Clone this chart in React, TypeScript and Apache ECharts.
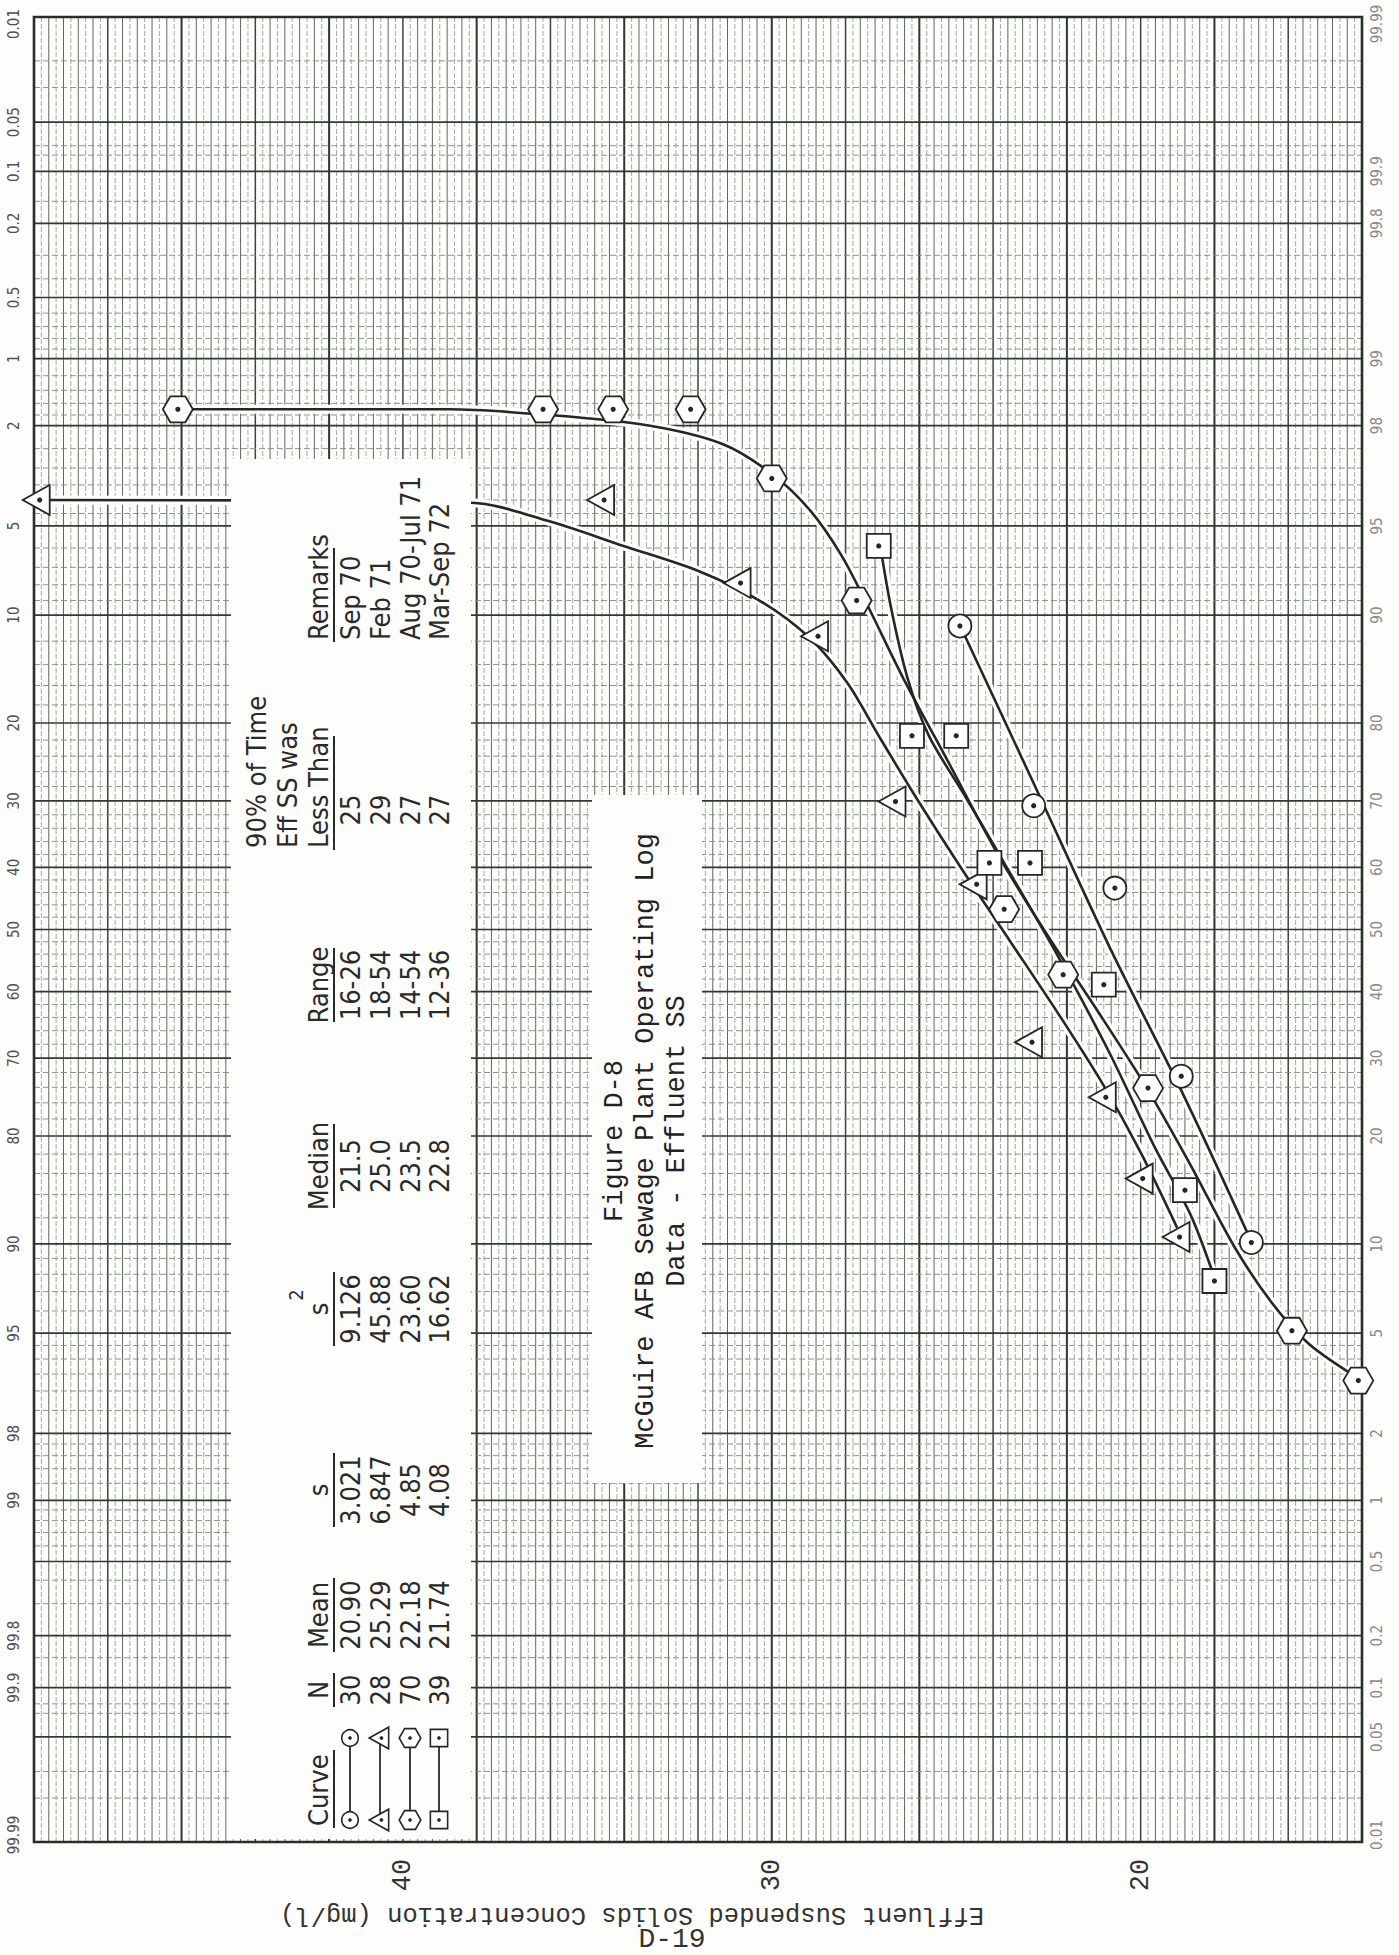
import React, { useEffect, useRef } from "react";
import * as echarts from "echarts";

const PAGE_W = 1399;
const PAGE_H = 1955;

// ---------- axes ----------
const concMin = 14;
const concMax = 50;
const concRule = 0.2; // finest ruling of the paper (mg/l)
const concLabels = [40, 30, 20];

const probLabelsLeft = ["0.01", "0.05", "0.1", "0.2", "0.5", "1", "2", "5", "10", "20", "30", "40", "50", "60", "70", "80", "90", "95", "98", "99", "99.8", "99.9", "99.99"];
const probLabelsRight = ["99.99", "99.9", "99.8", "99", "98", "95", "90", "80", "70", "60", "50", "40", "30", "20", "10", "5", "2", "1", "0.5", "0.2", "0.1", "0.05", "0.01"];
const probMajor = [0.01, 0.05, 0.1, 0.2, 0.5, 1, 2, 5, 10, 20, 30, 40, 50, 60, 70, 80, 90, 95, 98, 99, 99.5, 99.8, 99.9, 99.95, 99.99];
const probMinor = [0.02, 0.03, 0.07, 0.08, 0.15, 0.3, 0.4, 0.6, 0.7, 0.8, 0.9, 1.2, 1.4, 1.6, 1.8, 2.5, 3, 3.5, 4, 4.5, 6, 7, 8, 9, 12, 14, 16, 18, 22, 24, 26, 28, 32, 34, 36, 38, 42, 44, 46, 48, 52, 54, 56, 58, 62, 64, 66, 68, 72, 74, 76, 78, 82, 84, 86, 88, 91, 92, 93, 94, 95.5, 96, 96.5, 97, 97.5, 98.2, 98.4, 98.6, 98.8, 99.1, 99.2, 99.3, 99.4, 99.6, 99.7, 99.85, 99.92, 99.93, 99.97, 99.98];

// ---------- data: [mg/l, % of samples less than (right-hand scale)] ----------
const hexMarks = [[46.1, 98.3], [36.2, 98.3], [34.3, 98.3], [32.2, 98.3], [30.0, 96.7], [27.7, 91.0], [23.7, 53.3], [22.1, 42.7], [19.8, 25.9], [15.9, 5.1], [14.1, 3.3]];
const hexCurve = [[46.1, 98.3], [38.75, 98.3], [36.05, 98.2], [33.34, 98.0], [31.32, 97.6], [29.96, 96.8], [28.95, 95.6], [28.1, 93.6], [27.43, 90.8], [26.42, 84.6], [25.23, 75.4], [23.88, 62.1], [22.53, 49.1], [21.18, 37.1], [19.82, 25.8], [18.64, 16.8], [17.46, 9.8], [16.44, 6.4], [15.43, 4.55], [14.0, 3.3]];

const triMarks = [[49.9, 96.0], [34.6, 96.0], [30.9, 92.1], [28.8, 88.4], [26.7, 69.9], [24.5, 57.3], [23.0, 32.3], [21.0, 24.7], [20.0, 15.5], [19.0, 10.5]];
const triCurve = [[49.9, 96.0], [38.14, 95.9], [36.05, 95.2], [34.02, 94.1], [31.99, 92.8], [30.3, 90.95], [28.95, 88.2], [27.94, 84.2], [27.1, 78.5], [26.08, 70.4], [24.89, 60.1], [23.54, 48.1], [22.19, 36.2], [21.01, 26.3], [19.99, 18.1], [19.01, 11.2]];

const sqMarks = [[27.1, 94.1], [26.2, 78.5], [25.0, 78.5], [24.1, 60.7], [23.0, 60.7], [21.0, 41.1], [18.8, 14.4], [18.0, 7.6]];
const sqCurve = [[27.06, 94.1], [26.75, 90.3], [26.31, 84.6], [25.74, 78.5], [24.73, 70.4], [23.54, 59.1], [22.19, 45.1], [20.84, 30.7], [19.62, 18.75], [18.64, 12.2], [18.0, 7.8]];

const circMarks = [[24.9, 89.2], [22.9, 69.3], [20.7, 56.7], [18.9, 27.5], [17.0, 10.1]];
const circCurve = [[24.89, 89.2], [22.87, 72.1], [20.84, 47.1], [18.81, 24.7], [16.98, 10.06]];

// ---------- table ----------
const tableN = ["30", "28", "70", "39"];
const tableMean = ["20.90", "25.29", "22.18", "21.74"];
const tableS = ["3.021", "6.847", "4.85", "4.08"];
const tableS2 = ["9.126", "45.88", "23.60", "16.62"];
const tableMedian = ["21.5", "25.0", "23.5", "22.8"];
const tableRange = ["16-26", "18-54", "14-54", "12-36"];
const table90 = ["25", "29", "27", "27"];
const tableRemarks = ["Sep 70", "Feb 71", "Aug 70-Jul 71", "Mar-Sep 72"];
const legendKinds = ["circ", "tri", "hex", "sq"];

const captionLines = ["Figure D-8", "McGuire AFB Sewage Plant Operating Log", "Data - Effluent SS"];
const axisTitle = "Effluent Suspended Solids Concentration (mg/l)";
const pageNo = "D-19";

// ---------- helpers ----------
function probit(p: number): number {
  const a = [-3.969683028665376e1, 2.209460984245205e2, -2.759285104469687e2, 1.38357751867269e2, -3.066479806614716e1, 2.506628277459239];
  const b = [-5.447609879822406e1, 1.615858368580409e2, -1.556989798598866e2, 6.680131188771972e1, -1.328068155288572e1];
  const c = [-7.784894002430293e-3, -3.223964580411365e-1, -2.400758277161838, -2.549732539343734, 4.374664141464968, 2.938163982698783];
  const d = [7.784695709041462e-3, 3.224671290700398e-1, 2.445134137142996, 3.754408661907416];
  const pl = 0.02425;
  let q: number, r: number;
  if (p < pl) {
    q = Math.sqrt(-2 * Math.log(p));
    return (((((c[0] * q + c[1]) * q + c[2]) * q + c[3]) * q + c[4]) * q + c[5]) / ((((d[0] * q + d[1]) * q + d[2]) * q + d[3]) * q + 1);
  }
  if (p <= 1 - pl) {
    q = p - 0.5;
    r = q * q;
    return ((((((a[0] * r + a[1]) * r + a[2]) * r + a[3]) * r + a[4]) * r + a[5]) * q) / (((((b[0] * r + b[1]) * r + b[2]) * r + b[3]) * r + b[4]) * r + 1);
  }
  q = Math.sqrt(-2 * Math.log(1 - p));
  return -(((((c[0] * q + c[1]) * q + c[2]) * q + c[3]) * q + c[4]) * q + c[5]) / ((((d[0] * q + d[1]) * q + d[2]) * q + d[3]) * q + 1);
}
const zPct = (pct: number) => probit(pct / 100);
const Z_TOP = zPct(99.99);
const toZ = (d: number[]) => [d[0], zPct(d[1])];

const INK = "#262626";
const PAPER = "#fdfdfb";
const SANS_C = '"DejaVu Sans Condensed", "Liberation Sans Narrow", "Liberation Sans", sans-serif';
const MONO = '"Liberation Mono", "DejaVu Sans Mono", monospace';

function markerEls(kind: string, cx: number, cy: number, k: number, lw: number) {
  const st = { fill: "#ffffff", stroke: INK, lineWidth: lw };
  let shape: any;
  if (kind === "hex") {
    const r = 15 * k;
    shape = { type: "polygon", shape: { points: [[cx + r, cy], [cx + r / 2, cy - 0.866 * r], [cx - r / 2, cy - 0.866 * r], [cx - r, cy], [cx - r / 2, cy + 0.866 * r], [cx + r / 2, cy + 0.866 * r]] }, style: st };
  } else if (kind === "tri") {
    const s = 15 * k;
    shape = { type: "polygon", shape: { points: [[cx - s, cy], [cx + 0.8 * s, cy - s], [cx + 0.8 * s, cy + s]] }, style: st };
  } else if (kind === "sq") {
    const s = 12 * k;
    shape = { type: "rect", shape: { x: cx - s, y: cy - s, width: 2 * s, height: 2 * s }, style: st };
  } else {
    shape = { type: "circle", shape: { cx, cy, r: 11.5 * k }, style: st };
  }
  return [shape, { type: "circle", shape: { cx: kind === "tri" ? cx + 2 * k : cx, cy, r: 2.6 * k }, style: { fill: INK } }];
}

function vtext(text: string, x: number, y: number, font: string, fill: string, align = "center") {
  return { type: "text", x, y, rotation: Math.PI / 2, z: 60, style: { text, font, fill, align, verticalAlign: "middle" } };
}

function App() {
  const ref = useRef<HTMLDivElement>(null);

  useEffect(() => {
    if (!ref.current) return;
    const chart = echarts.init(ref.current, null, { renderer: "svg", width: PAGE_W, height: PAGE_H });

    const vRules: number[][] = [];
    const nRules = Math.round((concMax - concMin) / concRule);
    for (let k = 0; k <= nRules; k++) {
      const cls = k % 20 === 0 ? 0 : k % 10 === 0 ? 1 : k % 2 === 0 ? 2 : 3;
      vRules.push([+(concMin + k * concRule).toFixed(2), 0, cls]);
    }
    const vStyle = [
      { stroke: "#2c382c", lineWidth: 2.0 },
      { stroke: "#3a463a", lineWidth: 1.5 },
      { stroke: "#5e6b5c", lineWidth: 1.0 },
      { stroke: "#9aa597", lineWidth: 0.9, lineDash: [5, 2] },
    ];
    const hRules = [
      ...probMajor.map((p) => [concMax, zPct(p), 0]),
      ...probMinor.map((p) => [concMax, zPct(p), 1]),
    ];
    const hStyle = [
      { stroke: "#2f3b2f", lineWidth: 1.7 },
      { stroke: "#7f8c7c", lineWidth: 0.9, lineDash: [6, 3] },
    ];

    const curve = (data: number[][], z: number) => [
      { type: "line", data: data.map(toZ), showSymbol: false, smooth: 0.3, silent: true, z: 3, lineStyle: { color: PAPER, width: 9 } },
      { type: "line", data: data.map(toZ), showSymbol: false, smooth: 0.3, silent: true, z: 4 + z * 0.01, lineStyle: { color: INK, width: 2.6 } },
    ];
    const marks = (data: number[][], kind: string) => ({
      type: "custom",
      clip: false,
      silent: true,
      z: 6,
      data: data.map(toZ),
      renderItem: (params: any, api: any) => {
        const p = api.coord([api.value(0), api.value(1)]);
        return { type: "group", children: markerEls(kind, p[0], p[1], 1, 1.8) };
      },
    });
    // keep the end labels of the probability scales on the page
    const edgeNudge = (i: number, n: number) => (i === 0 ? 7 : i === n - 1 ? -7 : 0);

    const series: any[] = [
      {
        type: "custom",
        silent: true,
        clip: false,
        z: 1,
        data: vRules,
        renderItem: (params: any, api: any) => {
          const c = api.value(0);
          const p1 = api.coord([c, Z_TOP]);
          const p2 = api.coord([c, -Z_TOP]);
          return { type: "line", shape: { x1: p1[0], y1: p1[1], x2: p2[0], y2: p2[1] }, style: vStyle[api.value(2)] };
        },
      },
      {
        type: "custom",
        silent: true,
        clip: false,
        z: 1,
        data: hRules,
        renderItem: (params: any, api: any) => {
          const z = api.value(1);
          const p1 = api.coord([concMax, z]);
          const p2 = api.coord([concMin, z]);
          return { type: "line", shape: { x1: p1[0], y1: p1[1], x2: p2[0], y2: p2[1] }, style: hStyle[api.value(2)] };
        },
      },
      {
        type: "custom",
        silent: true,
        clip: false,
        z: 2,
        data: [[concMax, Z_TOP]],
        renderItem: (params: any, api: any) => {
          const p1 = api.coord([concMax, Z_TOP]);
          const p2 = api.coord([concMin, -Z_TOP]);
          return { type: "rect", shape: { x: p1[0], y: p1[1], width: p2[0] - p1[0], height: p2[1] - p1[1] }, style: { fill: "none", stroke: "#263026", lineWidth: 2.6 } };
        },
      },
      ...curve(hexCurve, 1),
      ...curve(triCurve, 2),
      ...curve(sqCurve, 3),
      ...curve(circCurve, 4),
      marks(hexMarks, "hex"),
      marks(triMarks, "tri"),
      marks(sqMarks, "sq"),
      marks(circMarks, "circ"),
      {
        type: "custom",
        silent: true,
        clip: false,
        z: 8,
        data: probLabelsLeft.map((l) => [concMax, zPct(100 - parseFloat(l))]),
        renderItem: (params: any, api: any) => {
          const p = api.coord([api.value(0), api.value(1)]);
          const i = params.dataIndex;
          return { type: "text", x: p[0] - 20, y: p[1] + edgeNudge(i, probLabelsLeft.length), rotation: Math.PI / 2, style: { text: probLabelsLeft[i], font: "15px " + SANS_C, fill: "#505050", align: "center", verticalAlign: "middle" } };
        },
      },
      {
        type: "custom",
        silent: true,
        clip: false,
        z: 8,
        data: probLabelsRight.map((l) => [concMin, zPct(parseFloat(l))]),
        renderItem: (params: any, api: any) => {
          const p = api.coord([api.value(0), api.value(1)]);
          const i = params.dataIndex;
          return { type: "text", x: p[0] + 15, y: p[1] + edgeNudge(i, probLabelsRight.length), rotation: Math.PI / 2, style: { text: probLabelsRight[i], font: "15px " + SANS_C, fill: "#8a8a8a", align: "center", verticalAlign: "middle" } };
        },
      },
      {
        type: "custom",
        silent: true,
        clip: false,
        z: 8,
        data: concLabels.map((c) => [c, -Z_TOP]),
        renderItem: (params: any, api: any) => {
          const p = api.coord([api.value(0), api.value(1)]);
          return { type: "text", x: p[0], y: p[1] + 33, rotation: Math.PI / 2, style: { text: String(concLabels[params.dataIndex]), font: "27px " + MONO, fill: "#333333", align: "center", verticalAlign: "middle" } };
        },
      },
    ];

    // ----- table & caption (annotation boxes) -----
    const TF = "27px " + SANS_C;
    const TC = "#2a2a2a";
    const headX = 318;
    const ulX = 334;
    const rowXs = [350, 380, 410, 439];
    const cols = [
      { y: 1690, head: "N", vals: tableN, ul: 34 },
      { y: 1615, head: "Mean", vals: tableMean, ul: 74 },
      { y: 1490, head: "s", vals: tableS, ul: 74 },
      { y: 1309, head: "s", vals: tableS2, ul: 74, sup: true },
      { y: 1166, head: "Median", vals: tableMedian, ul: 84 },
      { y: 985, head: "Range", vals: tableRange, ul: 74 },
    ];
    const g: any[] = [
      { type: "rect", z: 50, shape: { x: 231, y: 459, width: 240, height: 1380 }, style: { fill: PAPER } },
      { type: "rect", z: 50, shape: { x: 592, y: 795, width: 110, height: 688 }, style: { fill: PAPER } },
    ];
    cols.forEach((c) => {
      g.push(vtext(c.head, headX, c.y, TF, TC));
      if (c.sup) g.push(vtext("2", headX - 22, c.y - 14, "20px " + SANS_C, TC));
      g.push({ type: "line", z: 60, shape: { x1: ulX, y1: c.y - c.ul / 2, x2: ulX, y2: c.y + c.ul / 2 }, style: { stroke: TC, lineWidth: 2 } });
      c.vals.forEach((v, i) => g.push(vtext(v, rowXs[i], c.y, TF, TC)));
    });
    // 90% column
    g.push(vtext("90% of Time", headX - 62, 848, TF, TC, "left"));
    g.push(vtext("Eff SS was", headX - 31, 848, TF, TC, "left"));
    g.push(vtext("Less Than", headX, 848, TF, TC, "left"));
    g.push({ type: "line", z: 60, shape: { x1: ulX, y1: 736, x2: ulX, y2: 850 }, style: { stroke: TC, lineWidth: 2 } });
    table90.forEach((v, i) => g.push(vtext(v, rowXs[i], 810, TF, TC)));
    // remarks
    g.push(vtext("Remarks", headX, 640, TF, TC, "left"));
    g.push({ type: "line", z: 60, shape: { x1: ulX, y1: 548, x2: ulX, y2: 642 }, style: { stroke: TC, lineWidth: 2 } });
    tableRemarks.forEach((v, i) => g.push(vtext(v, rowXs[i], 640, TF, TC, "left")));
    // curve legend
    g.push(vtext("Curve", headX, 1826, TF, TC, "left"));
    g.push({ type: "line", z: 60, shape: { x1: ulX, y1: 1750, x2: ulX, y2: 1828 }, style: { stroke: TC, lineWidth: 2 } });
    legendKinds.forEach((kind, i) => {
      const x = rowXs[i];
      g.push({ type: "line", z: 60, shape: { x1: x, y1: 1738, x2: x, y2: 1820 }, style: { stroke: TC, lineWidth: 1.8 } });
      g.push({ type: "group", z: 61, children: markerEls(kind, x, 1738, 0.72, 1.6).map((e) => ({ ...e, z: 61 })) });
      g.push({ type: "group", z: 61, children: markerEls(kind, x, 1820, 0.72, 1.6).map((e) => ({ ...e, z: 61 })) });
    });
    // caption
    const capXs = [615, 646, 677];
    captionLines.forEach((t, i) => g.push(vtext(t, capXs[i], 1141, "27px " + MONO, "#222222")));
    // axis title (upside down on the scanned page) and page number
    g.push({ type: "text", z: 60, x: 632, y: 1914, rotation: Math.PI, style: { text: axisTitle, font: "25.5px " + MONO, fill: "#333333", align: "center", verticalAlign: "middle" } });
    g.push({ type: "text", z: 60, x: 672, y: 1939, style: { text: pageNo, font: "28px " + MONO, fill: "#333333", align: "center", verticalAlign: "middle" } });

    chart.setOption({
      animation: false,
      backgroundColor: PAPER,
      grid: { left: 34, right: 37, top: 17, bottom: 113, show: false },
      xAxis: { type: "value", min: concMin, max: concMax, inverse: true, show: false },
      yAxis: { type: "value", min: -Z_TOP, max: Z_TOP, show: false },
      series,
      graphic: g,
    });

    return () => chart.dispose();
  }, []);

  return <div ref={ref} style={{ position: "fixed", left: 0, top: 0, width: PAGE_W, height: PAGE_H }} />;
}

export default App;
